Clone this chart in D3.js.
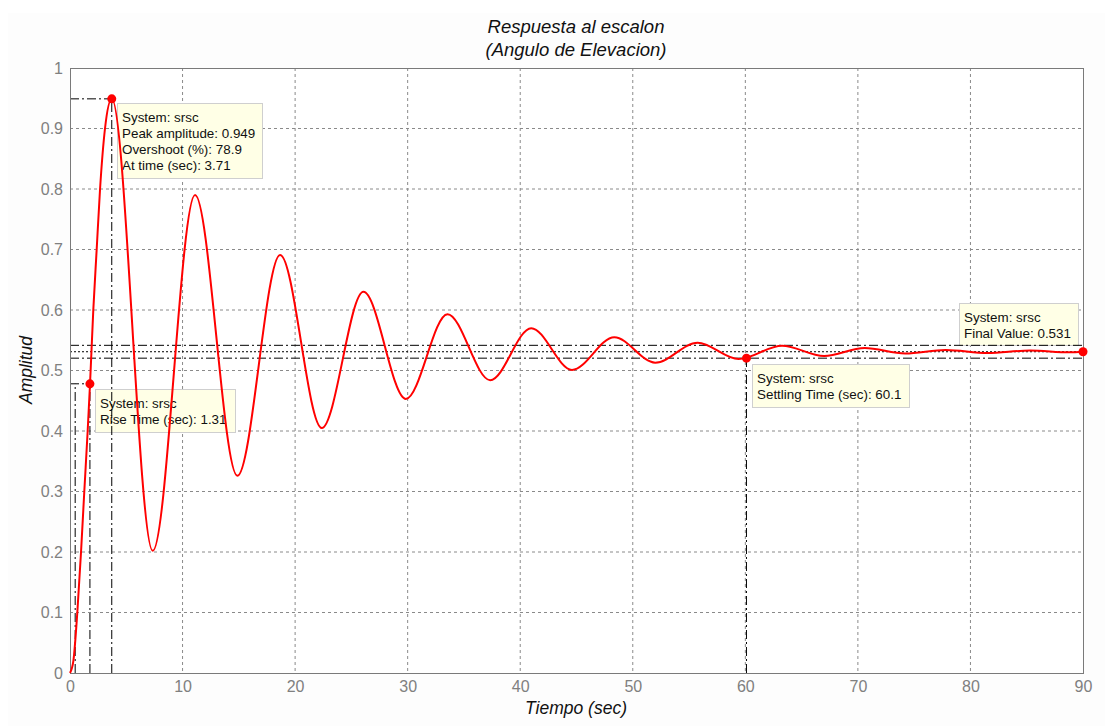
<!DOCTYPE html>
<html>
<head>
<meta charset="utf-8">
<script src="https://cdn.jsdelivr.net/npm/d3@7"></script>
<style>
  body { margin: 0; background: #fff; }
  svg { display: block; font-family: "Liberation Sans", Arial, sans-serif; }
</style>
</head>
<body>
<script>
"use strict";

// step response (sec, amplitude)
const timeSec = [0, 0.3, 0.65, 0.98, 1.27, 1.57, 1.78, 2.07, 2.37, 2.67, 3.11, 3.71,
  7.35, 11.11, 14.87, 18.67, 22.37, 26.07, 29.84, 33.54, 37.33, 40.98, 44.6,
  48.36, 52.0, 55.76, 59.4, 63.26, 67.0, 70.6, 74.2, 77.8, 81.5, 85.3, 88.8, 90];
const amplitude = [0, 0.02, 0.1, 0.2, 0.3, 0.4, 0.478, 0.6, 0.7, 0.8, 0.9, 0.949,
  0.202, 0.790, 0.326, 0.691, 0.405, 0.630, 0.453, 0.593, 0.484, 0.570, 0.501,
  0.555, 0.513, 0.546, 0.519, 0.541, 0.524, 0.537, 0.528, 0.534, 0.529, 0.533, 0.530, 0.531];

const xTicks = [0, 10, 20, 30, 40, 50, 60, 70, 80, 90];
const yTicks = [0, 0.1, 0.2, 0.3, 0.4, 0.5, 0.6, 0.7, 0.8, 0.9, 1];

const finalValue = 0.531;
const peak = { t: 3.71, v: 0.949 };
const riseStart = 0.46, riseEnd = 1.77, riseLevel = 0.478;
const settle = { t: 60.1, v: 0.5204 };
const settleBand = [0.98 * finalValue, 1.02 * finalValue];

const tips = [
  { lines: ["System: srsc", "Peak amplitude: 0.949", "Overshoot (%): 78.9", "At time (sec): 3.71"], x: 117, y: 103, w: 145, h: 75 },
  { lines: ["System: srsc", "Rise Time (sec): 1.31"], x: 95, y: 389, w: 140, h: 43 },
  { lines: ["System: srsc", "Settling Time (sec): 60.1"], x: 752, y: 364, w: 157, h: 43 },
  { lines: ["System: srsc", "Final Value: 0.531"], x: 959, y: 303, w: 119, h: 42 }
];

const margin = { left: 70, right: 1083, top: 68, bottom: 673 };

const svg = d3.select("body").append("svg")
  .attr("width", 1105)
  .attr("height", 726);

// faint figure background
svg.append("rect").attr("x", 8).attr("y", 13).attr("width", 1097).attr("height", 713)
  .attr("fill", "#fdfdfd");

const x = d3.scaleLinear().domain([0, 90]).range([margin.left, margin.right]);
const y = d3.scaleLinear().domain([0, 1]).range([margin.bottom, margin.top]);

svg.append("rect")
  .attr("x", margin.left).attr("y", margin.top)
  .attr("width", margin.right - margin.left).attr("height", margin.bottom - margin.top)
  .attr("fill", "#fff");

// grid
svg.append("g").selectAll("line")
  .data(xTicks.slice(1, -1))
  .enter().append("line")
  .attr("x1", d => x(d)).attr("x2", d => x(d))
  .attr("y1", margin.top).attr("y2", margin.bottom)
  .attr("stroke", "#8a8a8a").attr("stroke-dasharray", "3,3");
svg.append("g").selectAll("line")
  .data(yTicks.slice(1, -1))
  .enter().append("line")
  .attr("y1", d => y(d)).attr("y2", d => y(d))
  .attr("x1", margin.left).attr("x2", margin.right)
  .attr("stroke", "#8a8a8a").attr("stroke-dasharray", "3,3");

// axes
const xAxis = d3.axisBottom(x).tickValues(xTicks).tickSize(0).tickPadding(8).tickFormat(d3.format("d"));
const yAxis = d3.axisLeft(y).tickValues(yTicks).tickSize(0).tickPadding(7).tickFormat(d => d === 0 || d === 1 ? d : d3.format(".1f")(d));

const gx = svg.append("g").attr("transform", `translate(0,${margin.bottom})`).call(xAxis);
const gy = svg.append("g").attr("transform", `translate(${margin.left},0)`).call(yAxis);
[gx, gy].forEach(g => {
  g.select(".domain").remove();
  g.selectAll("text").attr("font-size", 16).attr("fill", "#808080")
    .attr("font-family", "'Liberation Sans', Arial, sans-serif");
});

// data tip boxes (lines are drawn over them in the original)
const tipG = svg.append("g");
tips.forEach(tp => {
  tipG.append("rect")
    .attr("x", tp.x + 0.5).attr("y", tp.y + 0.5)
    .attr("width", tp.w).attr("height", tp.h)
    .attr("fill", "#ffffe6").attr("stroke", "#cfcfcf");
  tp.lines.forEach((s, i) => {
    tipG.append("text")
      .attr("x", tp.x + 5).attr("y", tp.y + 19 + i * 16)
      .attr("font-size", 13.4).attr("fill", "#111")
      .text(s);
  });
});

// characteristic lines
const dashDot = "9,3,2,3";
const refG = svg.append("g").attr("stroke", "#000").attr("fill", "none");
settleBand.forEach(v => {
  refG.append("line")
    .attr("x1", x(0)).attr("x2", x(90)).attr("y1", y(v)).attr("y2", y(v))
    .attr("stroke-dasharray", dashDot);
});
refG.append("line")
  .attr("x1", x(0)).attr("x2", x(90)).attr("y1", y(finalValue)).attr("y2", y(finalValue))
  .attr("stroke-dasharray", "2,2");
// peak
refG.append("line").attr("x1", x(0)).attr("x2", x(peak.t)).attr("y1", y(peak.v)).attr("y2", y(peak.v))
  .attr("stroke-dasharray", dashDot);
refG.append("line").attr("x1", x(peak.t)).attr("x2", x(peak.t)).attr("y1", y(0)).attr("y2", y(peak.v))
  .attr("stroke-dasharray", dashDot);
// rise
refG.append("line").attr("x1", x(0)).attr("x2", x(riseEnd)).attr("y1", y(riseLevel)).attr("y2", y(riseLevel))
  .attr("stroke-dasharray", dashDot);
[riseStart, riseEnd].forEach(t => {
  refG.append("line").attr("x1", x(t)).attr("x2", x(t)).attr("y1", y(0)).attr("y2", y(riseLevel))
    .attr("stroke-dasharray", dashDot);
});
// settling
refG.append("line").attr("x1", x(settle.t)).attr("x2", x(settle.t)).attr("y1", y(0)).attr("y2", y(settle.v))
  .attr("stroke-dasharray", dashDot);

// axes box
svg.append("rect")
  .attr("x", margin.left + 0.5).attr("y", margin.top + 0.5)
  .attr("width", margin.right - margin.left).attr("height", margin.bottom - margin.top)
  .attr("fill", "none").attr("stroke", "#7a7a7a");

// response curve
const line = d3.line()
  .x((d, i) => x(timeSec[i]))
  .y(d => y(d))
  .curve(d3.curveMonotoneX);
svg.append("path")
  .datum(amplitude)
  .attr("d", line)
  .attr("fill", "none")
  .attr("stroke", "#ff0000")
  .attr("stroke-width", 2);

// markers
const marks = [[riseEnd, riseLevel], [peak.t, peak.v], [settle.t, settle.v], [90, finalValue]];
svg.append("g").selectAll("circle")
  .data(marks)
  .enter().append("circle")
  .attr("cx", d => x(d[0])).attr("cy", d => y(d[1]))
  .attr("r", 4.5).attr("fill", "#ff0000");

// titles
svg.append("text").attr("x", 576).attr("y", 33).attr("text-anchor", "middle")
  .attr("font-size", 18.5).attr("font-style", "italic").attr("fill", "#111")
  .text("Respuesta al escalon");
svg.append("text").attr("x", 576).attr("y", 56).attr("text-anchor", "middle")
  .attr("font-size", 18.5).attr("font-style", "italic").attr("fill", "#111")
  .text("(Angulo de Elevacion)");
svg.append("text").attr("x", 576).attr("y", 714).attr("text-anchor", "middle")
  .attr("font-size", 17.5).attr("font-style", "italic").attr("fill", "#111")
  .text("Tiempo (sec)");
svg.append("text").attr("transform", "translate(32,370) rotate(-90)").attr("text-anchor", "middle")
  .attr("font-size", 17.5).attr("font-style", "italic").attr("fill", "#111")
  .text("Amplitud");
</script>
</body>
</html>
